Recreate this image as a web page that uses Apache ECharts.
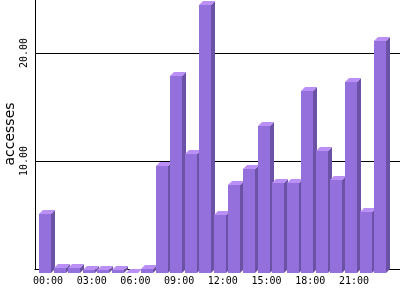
<!DOCTYPE html>
<html>
<head>
<meta charset="utf-8">
<script src="https://cdn.jsdelivr.net/npm/echarts@6/dist/echarts.min.js"></script>
<style>
html,body{margin:0;padding:0;background:#fff;}
#chart{width:400px;height:300px;}
</style>
</head>
<body>
<div id="chart"></div>
<script>
const hours = ['00:00','01:00','02:00','03:00','04:00','05:00','06:00','07:00','08:00','09:00','10:00','11:00',
               '12:00','13:00','14:00','15:00','16:00','17:00','18:00','19:00','20:00','21:00','22:00','23:00'];
const accesses = [5.5, 0.5, 0.5, 0.25, 0.25, 0.25, 0, 0.4, 9.9, 18.24, 11.05, 24.84,
                  5.4, 8.12, 9.63, 13.64, 8.36, 8.36, 16.88, 11.3, 8.64, 17.65, 5.68, 21.5];
const xLabelIndices = [0, 3, 6, 9, 12, 15, 18, 21];
const yTickValues = [10, 20];

const chart = echarts.init(document.getElementById('chart'), null, {renderer: 'canvas'});

const data = accesses.map((v, i) => [i, v]);

function renderItem(params, api) {
  const i = api.value(0), v = api.value(1);
  const pTop = api.coord([i, v]);
  const pBase = api.coord([i, 0]);
  const dx = 4, dy = 4;
  const L = Math.round(pTop[0] - 9);
  const R = L + 12;
  const ft = Math.round(pTop[1]) + dy;
  const fb = Math.round(pBase[1]) + dy;
  return {
    type: 'group',
    children: [
      {type: 'polygon', shape: {points: [[R, ft], [R + dx, ft - dy], [R + dx, fb - dy], [R, fb]]},
       style: {fill: '#6B52A6'}},
      {type: 'polygon', shape: {points: [[L, ft], [L + dx, ft - dy], [R + dx, ft - dy], [R, ft]]},
       style: {fill: '#BA90F6'}},
      {type: 'rect', shape: {x: L, y: ft, width: R - L, height: fb - ft},
       style: {fill: '#9370DB'}}
    ]
  };
}

chart.setOption({
  animation: false,
  backgroundColor: '#ffffff',
  grid: {left: 35, right: 0, top: -55, bottom: 31, containLabel: false, outerBoundsMode: 'none'},
  xAxis: {
    type: 'value',
    min: (35 - 48) / 14.57,
    max: (400 - 48) / 14.57,
    splitLine: {show: false},
    axisTick: {show: false},
    axisLine: {show: true, onZero: true, lineStyle: {color: '#000', width: 1}},
    axisLabel: {
      customValues: xLabelIndices,
      formatter: v => hours[Math.round(v)] || '',
      color: '#000',
      fontFamily: 'DejaVu Sans Mono',
      fontSize: 10,
      margin: 7
    }
  },
  yAxis: {
    type: 'value',
    min: 0,
    max: 30,
    interval: 10,
    name: 'accesses',
    nameLocation: 'middle',
    nameRotate: 90,
    nameGap: 18,
    nameMoveOverlap: false,
    nameTextStyle: {fontFamily: 'DejaVu Sans', fontSize: 14, color: '#000', padding: [0, 54, 0, 0]},
    axisLine: {show: true, onZero: false, lineStyle: {color: '#000', width: 1}},
    axisTick: {show: false},
    splitLine: {show: true, lineStyle: {color: '#000', width: 1}},
    axisLabel: {
      rotate: 90,
      formatter: v => (yTickValues.indexOf(v) >= 0 ? v.toFixed(2) : ''),
      color: '#000',
      fontFamily: 'DejaVu Sans Mono',
      fontSize: 10,
      margin: 6
    }
  },
  series: [{
    type: 'custom',
    renderItem: renderItem,
    data: data,
    clip: false,
    encode: {x: 0, y: 1}
  }]
});
</script>
</body>
</html>
